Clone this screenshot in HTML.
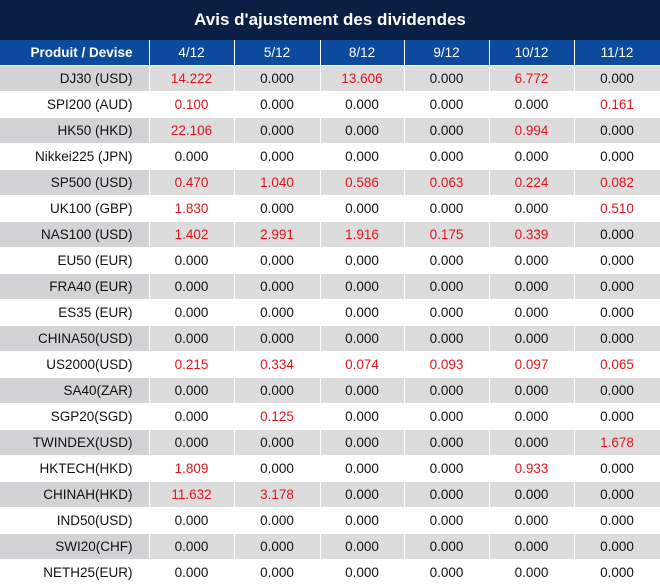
<!DOCTYPE html><html><head><style>
body{margin:0;width:660px;height:587px;overflow:hidden;background:#fff;font-family:"Liberation Sans",sans-serif;}
.t{height:40px;background:#0b1f45;color:#fff;font-weight:bold;font-size:17px;text-align:center;line-height:40px;}
table{border-collapse:collapse;table-layout:fixed;width:660px;}
td{height:25px;border:1px solid #fff;border-top:0;font-size:13.5px;text-align:center;color:#111;padding:0;}
tr.h td{background:#0b4a9c;color:#fff;height:25px;}
tr.h td:first-child{font-weight:bold;}
td:first-child{text-align:right;padding-right:16px;border-left:0;}
tr.g td{background:#dcdcdc;} tr.g td:first-child{background:#d3d3d6;}
.r{color:#e0141e;}
</style></head><body>
<div class="t">Avis d'ajustement des dividendes</div>
<table><colgroup><col style="width:149px"><col style="width:85px"><col style="width:86px"><col style="width:84px"><col style="width:85px"><col style="width:85px"><col style="width:86px"></colgroup>
<tr class="h"><td>Produit / Devise</td><td>4/12</td><td>5/12</td><td>8/12</td><td>9/12</td><td>10/12</td><td>11/12</td></tr>
<tr class="g"><td>DJ30 (USD)</td><td class="r">14.222</td><td>0.000</td><td class="r">13.606</td><td>0.000</td><td class="r">6.772</td><td>0.000</td></tr>
<tr><td>SPI200 (AUD)</td><td class="r">0.100</td><td>0.000</td><td>0.000</td><td>0.000</td><td>0.000</td><td class="r">0.161</td></tr>
<tr class="g"><td>HK50 (HKD)</td><td class="r">22.106</td><td>0.000</td><td>0.000</td><td>0.000</td><td class="r">0.994</td><td>0.000</td></tr>
<tr><td>Nikkei225 (JPN)</td><td>0.000</td><td>0.000</td><td>0.000</td><td>0.000</td><td>0.000</td><td>0.000</td></tr>
<tr class="g"><td>SP500 (USD)</td><td class="r">0.470</td><td class="r">1.040</td><td class="r">0.586</td><td class="r">0.063</td><td class="r">0.224</td><td class="r">0.082</td></tr>
<tr><td>UK100 (GBP)</td><td class="r">1.830</td><td>0.000</td><td>0.000</td><td>0.000</td><td>0.000</td><td class="r">0.510</td></tr>
<tr class="g"><td>NAS100 (USD)</td><td class="r">1.402</td><td class="r">2.991</td><td class="r">1.916</td><td class="r">0.175</td><td class="r">0.339</td><td>0.000</td></tr>
<tr><td>EU50 (EUR)</td><td>0.000</td><td>0.000</td><td>0.000</td><td>0.000</td><td>0.000</td><td>0.000</td></tr>
<tr class="g"><td>FRA40 (EUR)</td><td>0.000</td><td>0.000</td><td>0.000</td><td>0.000</td><td>0.000</td><td>0.000</td></tr>
<tr><td>ES35 (EUR)</td><td>0.000</td><td>0.000</td><td>0.000</td><td>0.000</td><td>0.000</td><td>0.000</td></tr>
<tr class="g"><td>CHINA50(USD)</td><td>0.000</td><td>0.000</td><td>0.000</td><td>0.000</td><td>0.000</td><td>0.000</td></tr>
<tr><td>US2000(USD)</td><td class="r">0.215</td><td class="r">0.334</td><td class="r">0.074</td><td class="r">0.093</td><td class="r">0.097</td><td class="r">0.065</td></tr>
<tr class="g"><td>SA40(ZAR)</td><td>0.000</td><td>0.000</td><td>0.000</td><td>0.000</td><td>0.000</td><td>0.000</td></tr>
<tr><td>SGP20(SGD)</td><td>0.000</td><td class="r">0.125</td><td>0.000</td><td>0.000</td><td>0.000</td><td>0.000</td></tr>
<tr class="g"><td>TWINDEX(USD)</td><td>0.000</td><td>0.000</td><td>0.000</td><td>0.000</td><td>0.000</td><td class="r">1.678</td></tr>
<tr><td>HKTECH(HKD)</td><td class="r">1.809</td><td>0.000</td><td>0.000</td><td>0.000</td><td class="r">0.933</td><td>0.000</td></tr>
<tr class="g"><td>CHINAH(HKD)</td><td class="r">11.632</td><td class="r">3.178</td><td>0.000</td><td>0.000</td><td>0.000</td><td>0.000</td></tr>
<tr><td>IND50(USD)</td><td>0.000</td><td>0.000</td><td>0.000</td><td>0.000</td><td>0.000</td><td>0.000</td></tr>
<tr class="g"><td>SWI20(CHF)</td><td>0.000</td><td>0.000</td><td>0.000</td><td>0.000</td><td>0.000</td><td>0.000</td></tr>
<tr><td>NETH25(EUR)</td><td>0.000</td><td>0.000</td><td>0.000</td><td>0.000</td><td>0.000</td><td>0.000</td></tr>
</table></body></html>
